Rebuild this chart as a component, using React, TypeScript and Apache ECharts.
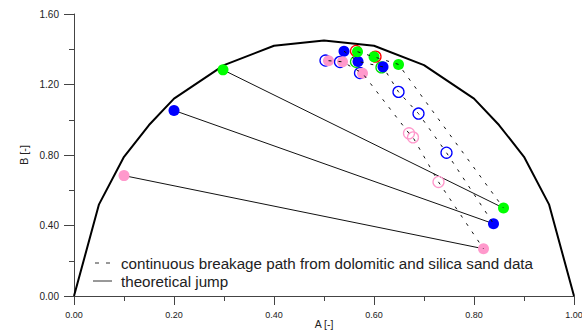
import React, { useEffect, useRef } from "react";
import * as echarts from "echarts";

// Envelope (theoretical boundary)
const envelopeA = [0, 0.05, 0.1, 0.15, 0.2, 0.3, 0.4, 0.5, 0.6, 0.7, 0.8, 0.85, 0.9, 0.95, 1.0];
const envelopeB = [0, 0.52, 0.79, 0.97, 1.12, 1.31, 1.42, 1.45, 1.42, 1.31, 1.12, 0.97, 0.79, 0.52, 0];

// Theoretical jumps (start -> end)
const jumpStartA = [0.1, 0.2, 0.298];
const jumpStartB = [0.683, 1.053, 1.283];
const jumpEndA = [0.819, 0.839, 0.859];
const jumpEndB = [0.268, 0.41, 0.499];

// Continuous breakage paths (dashed)
const pinkPathA = [0.509, 0.537, 0.577, 0.67, 0.678, 0.729, 0.819];
const pinkPathB = [1.335, 1.329, 1.264, 0.923, 0.9, 0.647, 0.268];
const bluePathA = [0.54, 0.568, 0.618, 0.649, 0.689, 0.745, 0.839];
const bluePathB = [1.389, 1.331, 1.3, 1.158, 1.035, 0.813, 0.41];
const greenPathA = [0.567, 0.6, 0.649, 0.859];
const greenPathB = [1.386, 1.357, 1.314, 0.499];

// Filled markers
const filledBlueA = [0.2, 0.54, 0.568, 0.618, 0.839];
const filledBlueB = [1.053, 1.389, 1.331, 1.3, 0.41];
const filledGreenA = [0.298, 0.567, 0.6, 0.649, 0.859];
const filledGreenB = [1.283, 1.386, 1.357, 1.314, 0.499];
const filledPinkA = [0.1, 0.509, 0.537, 0.577, 0.819];
const filledPinkB = [0.683, 1.335, 1.329, 1.264, 0.268];

// Open markers
const openBlueA = [0.503, 0.532, 0.572, 0.649, 0.689, 0.745];
const openBlueB = [1.336, 1.328, 1.265, 1.158, 1.035, 0.813];
const openPinkA = [0.67, 0.678, 0.729];
const openPinkB = [0.923, 0.9, 0.647];
const openRedA = [0.564, 0.603];
const openRedB = [1.39, 1.358];
const openGreenA = [0.564, 0.615];
const openGreenB = [1.329, 1.297];

const xTicks = { min: 0, max: 1, interval: 0.2 };
const yTicks = { min: 0, max: 1.6, interval: 0.4 };

const legendTexts = [
  "continuous breakage path from dolomitic and silica sand data",
  "theoretical jump",
];

const zip = (a: number[], b: number[]) => a.map((v, i) => [v, b[i]]);

const FONT = "'Liberation Sans', Arial, sans-serif";

export default function App() {
  const ref = useRef<HTMLDivElement>(null);
  useEffect(() => {
    if (!ref.current) return;
    const chart = echarts.init(ref.current, null, { renderer: "svg" });
    const jumpSeries = jumpStartA.map((_, i) => ({
      type: "line",
      data: [
        [jumpStartA[i], jumpStartB[i]],
        [jumpEndA[i], jumpEndB[i]],
      ],
      symbol: "none",
      lineStyle: { color: "#111", width: 1 },
      z: 2,
    }));
    const dashed = (a: number[], b: number[]) => ({
      type: "line",
      data: zip(a, b),
      symbol: "none",
      lineStyle: { color: "#111", width: 1, type: [3, 7] },
      z: 6,
    });
    const filled = (a: number[], b: number[], color: string) => ({
      type: "scatter",
      data: zip(a, b),
      symbol: "circle",
      symbolSize: 11,
      itemStyle: { color, opacity: 1 },
      z: 4,
    });
    const open = (a: number[], b: number[], color: string) => ({
      type: "scatter",
      data: zip(a, b),
      symbol: "circle",
      symbolSize: 11,
      itemStyle: { color: "rgba(0,0,0,0)", borderColor: color, borderWidth: 1.3, opacity: 1 },
      z: 3,
    });
    chart.setOption({
      animation: false,
      textStyle: { fontFamily: FONT },
      grid: { left: 74, right: 8, top: 14, bottom: 36, containLabel: false, outerBoundsMode: "none" },
      xAxis: {
        type: "value",
        ...xTicks,
        name: "A [-]",
        nameLocation: "middle",
        nameGap: 22,
        nameMoveOverlap: false,
        nameTextStyle: { fontSize: 10.5, color: "#222", fontFamily: FONT },
        axisLine: { show: true, onZero: false, lineStyle: { color: "#444", width: 1 } },
        axisTick: { show: true, length: 9, lineStyle: { color: "#444" } },
        minorTick: { show: true, splitNumber: 2, length: 5, lineStyle: { color: "#444" } },
        axisLabel: { fontSize: 9, color: "#222", margin: 14, formatter: (v: number) => v.toFixed(2), fontFamily: FONT },
        splitLine: { show: false },
      },
      yAxis: {
        type: "value",
        ...yTicks,
        name: "B [-]",
        nameLocation: "middle",
        nameGap: 45,
        nameMoveOverlap: false,
        nameTextStyle: { fontSize: 11, color: "#222", fontFamily: FONT },
        axisLine: { show: true, onZero: false, lineStyle: { color: "#444", width: 1 } },
        axisTick: { show: true, length: 10, lineStyle: { color: "#444" } },
        minorTick: { show: true, splitNumber: 2, length: 5, lineStyle: { color: "#444" } },
        axisLabel: { fontSize: 10, color: "#222", margin: 15, formatter: (v: number) => v.toFixed(2), fontFamily: FONT },
        splitLine: { show: false },
      },
      series: [
        {
          type: "line",
          data: zip(envelopeA, envelopeB),
          symbol: "none",
          lineStyle: { color: "#000", width: 2 },
          z: 1,
        },
        ...jumpSeries,
        open(openBlueA, openBlueB, "#0000ff"),
        open(openPinkA, openPinkB, "#ff99cc"),
        open(openRedA, openRedB, "#ff0000"),
        open(openGreenA, openGreenB, "#00e000"),
        filled(filledBlueA, filledBlueB, "#0000ff"),
        filled(filledGreenA, filledGreenB, "#00ff00"),
        filled(filledPinkA, filledPinkB, "#ff99cc"),
        dashed(pinkPathA, pinkPathB),
        dashed(bluePathA, bluePathB),
        dashed(greenPathA, greenPathB),
      ],
      graphic: [
        {
          type: "line",
          shape: { x1: 95, y1: 263, x2: 111, y2: 263 },
          style: { stroke: "#333", lineWidth: 1, lineDash: [4, 7] },
        },
        {
          type: "text",
          x: 121,
          y: 263,
          style: {
            text: legendTexts[0],
            fontSize: 15.2,
            fontFamily: FONT,
            fill: "#222",
            verticalAlign: "middle",
          },
        },
        {
          type: "line",
          shape: { x1: 93, y1: 281, x2: 112, y2: 281 },
          style: { stroke: "#333", lineWidth: 1 },
        },
        {
          type: "text",
          x: 121,
          y: 281,
          style: {
            text: legendTexts[1],
            fontSize: 15.2,
            fontFamily: FONT,
            fill: "#222",
            verticalAlign: "middle",
          },
        },
      ],
    });
    return () => chart.dispose();
  }, []);
  return (
    <div
      ref={ref}
      style={{ position: "fixed", left: 0, top: 0, width: 582, height: 332, background: "#fff" }}
    />
  );
}
